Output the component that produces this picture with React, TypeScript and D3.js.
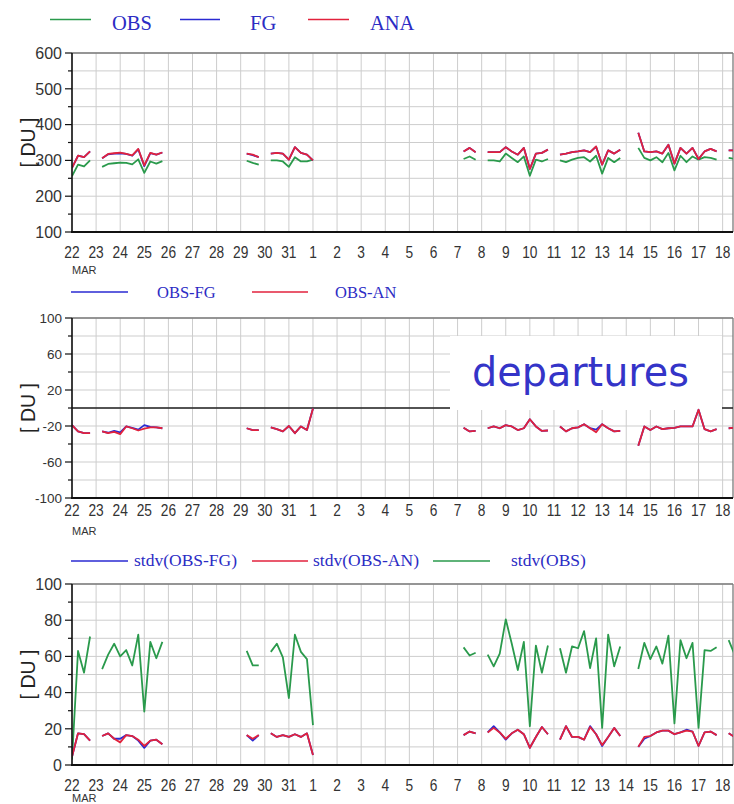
import React from 'react';
import * as d3 from 'd3';

// ---- layout constants ----
const W = 734;
const H = 804;
const X0 = 72;
const X1 = 733;
const DAY_END = 27.43; // days after 22 Mar 00 UTC at the right frame
const STEPS_PER_DAY = 4; // 6-hourly cycles

// ---- data ----
// Day labels along the time axis (22 Mar .. 18 Apr)
const DAY_LABELS = [
  '22', '23', '24', '25', '26', '27', '28', '29', '30', '31',
  '1', '2', '3', '4', '5', '6', '7', '8', '9', '10',
  '11', '12', '13', '14', '15', '16', '17', '18',
];

// First 6-hourly cycle index of each contiguous data segment
const SEG_START = [0, 5, 29, 33, 65, 69, 81, 94, 109];

// Total column ozone [DU]
const OBS_TC = [
  [256, 288, 283, 300],
  [282, 290, 292, 294, 293, 289, 303, 265, 297, 291, 298],
  [299, 293, 288],
  [300, 300, 297, 282, 309, 297, 297, 302],
  [304, 311, 302],
  [300, 300, 297, 319, 307, 295, 311, 257, 302, 297, 304],
  [300, 295, 302, 307, 309, 297, 313, 263, 307, 295, 307],
  [335, 307, 300, 309, 295, 321, 272, 313, 295, 311, 302, 309, 307, 302],
  [307, 304],
];
const FG_TC = [
  [279, 313, 309, 325],
  [306, 317, 319, 320, 318, 313, 331, 284, 320, 316, 322],
  [319, 315, 309],
  [319, 321, 319, 302, 337, 321, 316, 300],
  [325, 335, 323],
  [323, 323, 323, 337, 325, 316, 335, 276, 319, 321, 330],
  [316, 319, 323, 325, 328, 323, 338, 288, 328, 319, 330],
  [377, 325, 323, 325, 319, 344, 291, 335, 319, 335, 304, 325, 332, 325],
  [328, 328],
];
const ANA_TC = [
  [279, 313, 309, 325],
  [306, 318, 320, 322, 318, 314, 332, 286, 321, 316, 322],
  [319, 316, 309],
  [319, 321, 319, 302, 337, 321, 316, 300],
  [325, 335, 323],
  [323, 323, 323, 337, 325, 316, 335, 276, 319, 321, 330],
  [316, 319, 323, 325, 328, 323, 339, 288, 328, 319, 330],
  [377, 325, 323, 325, 319, 344, 291, 335, 319, 335, 304, 325, 332, 325],
  [328, 328],
];

// Departures [DU]
const OBS_MINUS_FG = [
  [-19, -26, -28, -28],
  [-26, -27.5, -25.5, -27, -20.5, -22, -24, -19, -21, -21.5, -22.5],
  [-22.5, -24.5, -24.5],
  [-21.5, -23.5, -26, -20, -28, -20.5, -24.5, -0.5],
  [-22, -26, -25.5],
  [-22.5, -20.5, -22.5, -19, -20.5, -24.5, -22.5, -12.5, -20.5, -25.5, -25],
  [-20.5, -26, -22.5, -21.5, -18, -22.5, -24, -18, -22.5, -26, -25.5],
  [-42, -20.5, -24.5, -20.5, -23.5, -22.5, -22, -20.5, -20.5, -20.5, -2, -23.5, -26, -23.5],
  [-22.5, -22],
];
const OBS_MINUS_AN = [
  [-19, -26, -28, -28],
  [-26, -28, -26.5, -29, -20.5, -22.5, -25, -23, -21.5, -21.5, -22.5],
  [-22.5, -24.5, -24.5],
  [-21.5, -23.5, -26, -20, -28, -20.5, -24.5, -0.5],
  [-22, -26, -25.5],
  [-22.5, -20.5, -22.5, -19, -20.5, -24.5, -22.5, -12.5, -20.5, -25.5, -25],
  [-20.5, -26, -22.5, -21.5, -18, -22.5, -27, -18, -22.5, -26, -25.5],
  [-42, -20.5, -24.5, -20.5, -23.5, -22.5, -22, -20.5, -20.5, -20.5, -2, -23.5, -26, -23.5],
  [-22.5, -22],
];

// Standard deviations [DU]
const STDV_OBS_FG = [
  [4.5, 17.5, 17, 13.5],
  [16, 17.5, 14.5, 14.5, 16.5, 16, 13.5, 9.5, 13.5, 14, 11.5],
  [16.5, 13.5, 16.5],
  [17.5, 15.5, 16.5, 15.5, 17, 15.5, 17.5, 5.5],
  [16.5, 18.5, 17.5],
  [18, 21.5, 18, 14, 17.5, 19.5, 17, 9.5, 15.5, 21, 17],
  [14, 21.5, 15.5, 15.5, 14, 21.5, 17, 10.5, 15.5, 20.5, 16],
  [10, 14.5, 16, 18, 19, 19, 17, 18, 19.5, 18.5, 10.5, 18, 18.5, 16.5],
  [17.5, 15.5],
];
const STDV_OBS_AN = [
  [4.5, 17.5, 17, 13.5],
  [16, 17.5, 14.5, 12.5, 16.5, 16, 14, 10.5, 13.5, 14, 11.5],
  [16.5, 14.5, 16.5],
  [17.5, 15.5, 16.5, 15.5, 17, 15.5, 17.5, 5.5],
  [16.5, 18.5, 17.5],
  [18, 20.5, 18, 14.5, 17.5, 19.5, 17, 9.5, 15.5, 21, 17],
  [14, 21.5, 15.5, 15.5, 14, 21, 17, 11, 15.5, 20.5, 16],
  [10, 15.5, 16, 18, 19, 19, 17, 18, 19, 18.5, 10.5, 18, 18.5, 16.5],
  [17.5, 15.5],
];
const STDV_OBS = [
  [3, 63, 51, 71],
  [53, 61, 67, 60, 63.5, 55, 72, 29.5, 68, 59, 68],
  [63, 55, 55],
  [62.5, 67, 59.5, 37, 72, 62.5, 58.5, 22],
  [65, 60.5, 62],
  [61, 54.5, 61.5, 80.5, 67, 52.5, 68, 21.5, 66, 51, 66],
  [64.5, 51, 65.5, 64.5, 74, 53.5, 70, 20.5, 72, 54.5, 65.5],
  [53, 67.5, 58.5, 65.5, 56, 71.5, 23, 69, 59, 67.5, 20.5, 63.5, 63, 65],
  [69, 61],
];

// ---- styles ----
const GREEN = '#2a9a4c';
const BLUE = '#2a2ad2';
const RED = '#e2223c';
const TEXT_BLUE = '#2c2cc4';
const GRID = '#cdcdcd';
const LABEL = '#333333';

type Pt = { t: number; v: number | null };

function expand(segs: number[][]): Pt[] {
  const pts: Pt[] = [];
  segs.forEach((seg, k) => {
    seg.forEach((v, i) => pts.push({ t: (SEG_START[k] + i) / STEPS_PER_DAY, v }));
    pts.push({ t: (SEG_START[k] + seg.length) / STEPS_PER_DAY, v: null });
  });
  return pts;
}

const x = d3.scaleLinear().domain([0, DAY_END]).range([X0, X1]);

type Series = { data: number[][]; color: string };
type LegendItem = { x1: number; x2: number; tx: number; label: string; color: string };

type PanelProps = {
  id: string;
  top: number;
  bottom: number;
  domain: [number, number];
  labelStep: number;
  labelStart: number;
  gridStep: number;
  yFont: number;
  series: Series[];
  zero?: boolean;
  labelBase: number;
  monthBase: number;
  children?: React.ReactNode;
};

function Panel(p: PanelProps) {
  const y = d3.scaleLinear().domain(p.domain).range([p.bottom, p.top]);
  const gridVals = d3.range(p.domain[0], p.domain[1] + 1e-6, p.gridStep);
  const labelVals = d3.range(p.labelStart, p.domain[1] + 1e-6, p.labelStep);
  const days = d3.range(0, DAY_LABELS.length);
  const line = d3
    .line<Pt>()
    .defined((d) => d.v !== null)
    .x((d) => x(d.t))
    .y((d) => y(d.v as number));
  const clipId = `clip-${p.id}`;
  return (
    <g>
      <defs>
        <clipPath id={clipId}>
          <rect x={X0} y={p.top} width={X1 - X0} height={p.bottom - p.top} />
        </clipPath>
      </defs>
      {/* grid */}
      {gridVals.map((v) => (
        <line key={`h${v}`} x1={X0} x2={X1} y1={y(v)} y2={y(v)} stroke={GRID} strokeWidth={1} />
      ))}
      {days.map((d) => (
        <line key={`v${d}`} x1={x(d)} x2={x(d)} y1={p.top} y2={p.bottom} stroke={GRID} strokeWidth={1} />
      ))}
      {/* frame */}
      <line x1={X0} x2={X1} y1={p.top} y2={p.top} stroke="#7a7a7a" strokeWidth={1.3} />
      <line x1={X1} x2={X1} y1={p.top} y2={p.bottom} stroke="#7a7a7a" strokeWidth={1.3} />
      {p.zero && (
        <line x1={X0} x2={X1} y1={y(0)} y2={y(0)} stroke="#222" strokeWidth={1.6} />
      )}
      {p.children}
      {/* data */}
      <g clipPath={`url(#${clipId})`}>
        {p.series.map((s, i) => (
          <path
            key={i}
            d={line(expand(s.data)) || ''}
            fill="none"
            stroke={s.color}
            strokeWidth={1.8}
            strokeLinejoin="round"
          />
        ))}
      </g>
      {/* axes */}
      <line x1={X0} x2={X0} y1={p.top} y2={p.bottom + 1} stroke="#111" strokeWidth={1.6} />
      <line x1={X0 - 1} x2={X1} y1={p.bottom} y2={p.bottom} stroke="#111" strokeWidth={2} />
      {gridVals.map((v) => {
        const major = labelVals.some((l) => Math.abs(l - v) < 1e-6);
        return (
          <line
            key={`t${v}`}
            x1={major ? X0 - 7 : X0 - 4}
            x2={X0}
            y1={y(v)}
            y2={y(v)}
            stroke="#111"
            strokeWidth={1.2}
          />
        );
      })}
      {labelVals.map((v) => (
        <text
          key={`l${v}`}
          x={62}
          y={y(v)}
          dy="0.36em"
          textAnchor="end"
          fontSize={p.yFont}
          fill={LABEL}
          fontFamily="'Liberation Sans', Arial, sans-serif"
        >
          {v}
        </text>
      ))}
      {days.map((d) => (
        <text
          key={`d${d}`}
          transform={`translate(${x(d)},${p.labelBase}) scale(0.86,1)`}
          textAnchor="middle"
          fontSize={16}
          fill={LABEL}
          fontFamily="'Liberation Sans', Arial, sans-serif"
        >
          {DAY_LABELS[d]}
        </text>
      ))}
      <text
        x={X0}
        y={p.monthBase}
        fontSize={11}
        fill={LABEL}
        fontFamily="'Liberation Sans', Arial, sans-serif"
      >
        MAR
      </text>
      <text
        transform={`translate(28,${(p.top + p.bottom) / 2}) rotate(-90)`}
        textAnchor="middle"
        dy="0.35em"
        fontSize={19.5}
        fill="#222"
        fontFamily="'Liberation Sans', Arial, sans-serif"
      >
        [ DU ]
      </text>
    </g>
  );
}

function Legend({ items, y, ty, fontSize }: { items: LegendItem[]; y: number; ty: number; fontSize: number }) {
  return (
    <g>
      {items.map((it) => (
        <g key={it.label}>
          <line x1={it.x1} x2={it.x2} y1={y} y2={y} stroke={it.color} strokeWidth={1.6} />
          <text
            x={it.tx}
            y={ty}
            fontSize={fontSize}
            fill={TEXT_BLUE}
            fontFamily="'Liberation Serif', 'Times New Roman', serif"
          >
            {it.label}
          </text>
        </g>
      ))}
    </g>
  );
}

const LEGEND_TC: LegendItem[] = [
  { x1: 50, x2: 91, tx: 112, label: 'OBS', color: GREEN },
  { x1: 180, x2: 220, tx: 250, label: 'FG', color: BLUE },
  { x1: 308, x2: 349, tx: 370, label: 'ANA', color: RED },
];
const LEGEND_DEP: LegendItem[] = [
  { x1: 71, x2: 128, tx: 157, label: 'OBS-FG', color: BLUE },
  { x1: 252, x2: 308, tx: 335, label: 'OBS-AN', color: RED },
];
const LEGEND_STD: LegendItem[] = [
  { x1: 71, x2: 128, tx: 134, label: 'stdv(OBS-FG)', color: BLUE },
  { x1: 252, x2: 308, tx: 313, label: 'stdv(OBS-AN)', color: RED },
  { x1: 433, x2: 490, tx: 511, label: 'stdv(OBS)', color: GREEN },
];

export default function App() {
  return (
    <svg
      width={W}
      height={H}
      viewBox={`0 0 ${W} ${H}`}
      style={{ display: 'block', position: 'absolute', left: 0, top: 0, background: '#fff' }}
    >
      <rect width={W} height={H} fill="#fff" />
      <Legend items={LEGEND_TC} y={19.5} ty={30} fontSize={20.5} />
      <Panel
        id="tc"
        top={53}
        bottom={232}
        domain={[100, 600]}
        labelStart={100}
        labelStep={100}
        gridStep={50}
        yFont={16}
        series={[
          { data: OBS_TC, color: GREEN },
          { data: FG_TC, color: BLUE },
          { data: ANA_TC, color: RED },
        ]}
        labelBase={258}
        monthBase={274}
      />

      <Legend items={LEGEND_DEP} y={292} ty={298} fontSize={16.5} />
      <Panel
        id="dep"
        top={318}
        bottom={498}
        domain={[-100, 100]}
        labelStart={-100}
        labelStep={40}
        gridStep={20}
        yFont={13.5}
        zero
        series={[
          { data: OBS_MINUS_FG, color: BLUE },
          { data: OBS_MINUS_AN, color: RED },
        ]}
        labelBase={516}
        monthBase={535}
      >
        <rect x={450} y={336} width={272} height={74} fill="#fff" />
        <text
          x={472}
          y={386}
          fontSize={40}
          fill="#3434c8"
          fontFamily="'DejaVu Sans', sans-serif"
          textLength={217}
          lengthAdjust="spacingAndGlyphs"
        >
          departures
        </text>
      </Panel>

      <Legend items={LEGEND_STD} y={561} ty={566} fontSize={17.5} />
      <Panel
        id="std"
        top={584}
        bottom={765}
        domain={[0, 100]}
        labelStart={0}
        labelStep={20}
        gridStep={10}
        yFont={16}
        series={[
          { data: STDV_OBS, color: GREEN },
          { data: STDV_OBS_FG, color: BLUE },
          { data: STDV_OBS_AN, color: RED },
        ]}
        labelBase={791}
        monthBase={802}
      />
    </svg>
  );
}
